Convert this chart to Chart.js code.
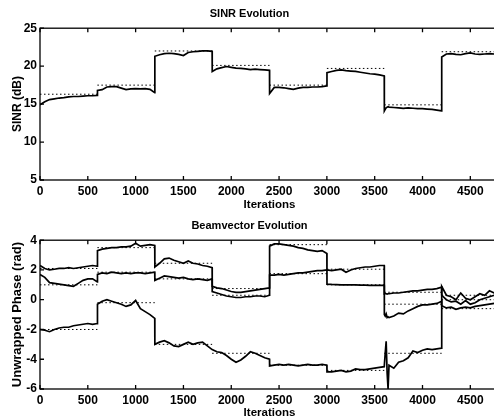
<!DOCTYPE html>
<html>
<head>
<meta charset="utf-8">
<script src="https://cdn.jsdelivr.net/npm/chart.js@4/dist/chart.umd.min.js"></script>
<style>
  html, body { margin: 0; padding: 0; background: #fff; overflow: hidden; width: 494px; height: 420px; }
  .panel { position: absolute; left: 0; }
</style>
</head>
<body>
<div class="panel" style="top:0"><canvas id="sinr" width="505" height="212"></canvas></div>
<div class="panel" style="top:212px"><canvas id="beam" width="505" height="208"></canvas></div>
<script>
// iteration grid the curves were read at (segments of 600 iterations)
const ITER = [
  0, 50, 100, 150, 200, 250, 300, 350, 400, 450, 500, 550, 600,
  601, 650, 700, 750, 800, 850, 900, 950, 1000, 1050, 1100, 1150, 1200,
  1201, 1250, 1300, 1350, 1400, 1450, 1500, 1550, 1600, 1650, 1700, 1750, 1800,
  1801, 1850, 1900, 1950, 2000, 2050, 2100, 2150, 2200, 2250, 2300, 2350, 2400,
  2401, 2450, 2500, 2550, 2600, 2650, 2700, 2750, 2800, 2850, 2900, 2950, 3000,
  3001, 3050, 3100, 3150, 3200, 3250, 3300, 3350, 3400, 3450, 3500, 3550, 3600,
  3601, 3610, 3620, 3630, 3640, 3650, 3700, 3750, 3800, 3850, 3900, 3950, 4000, 4050, 4100, 4150, 4200,
  4201, 4250, 4300, 4350, 4400, 4450, 4500, 4550, 4600, 4650, 4700, 4750, 4800
];
const SEG_EDGES = [0, 600, 1200, 1800, 2400, 3000, 3600, 4200, 4800];

// SINR (dB), adaptive
const SINR = [
  14.9, 15.3, 15.6, 15.7, 15.8, 15.85, 15.95, 16.0, 16.0, 16.05, 16.1, 16.1, 16.15,
  16.8, 16.9, 17.25, 17.3, 17.3, 17.1, 16.9, 17.0, 17.05, 17.0, 17.05, 16.95, 16.5,
  21.3, 21.5, 21.65, 21.7, 21.65, 21.55, 21.4, 21.8, 21.9, 21.95, 22.0, 22.0, 21.95,
  19.3, 19.65, 19.8, 19.95, 19.85, 19.75, 19.7, 19.65, 19.55, 19.6, 19.55, 19.5, 19.45,
  16.4, 17.2, 17.2, 17.15, 17.05, 16.95, 17.1, 17.2, 17.2, 17.25, 17.25, 17.3, 17.4,
  19.15, 19.3, 19.45, 19.5, 19.4, 19.35, 19.3, 19.2, 19.1, 19.0, 18.95, 18.85, 18.7,
  14.1, 14.3, 14.5, 14.6, 14.65, 14.6, 14.55, 14.5, 14.45, 14.5, 14.45, 14.4, 14.4, 14.35, 14.3, 14.2, 14.1,
  21.2, 21.6, 21.65, 21.55, 21.5, 21.65, 21.75, 21.6, 21.55, 21.6, 21.65, 21.6, 21.6
];
// SINR optimum per segment (dotted)
const SINR_OPT = [16.3, 17.5, 22.0, 20.1, 17.5, 19.7, 14.9, 21.9];

// unwrapped phases (rad) of the three beamvector weights
const PHASE1 = [
  2.3, 2.1, 2.0, 2.05, 2.1, 2.1, 2.15, 2.1, 2.15, 2.2, 2.25, 2.3, 2.25,
  3.3, 3.4, 3.45, 3.5, 3.5, 3.55, 3.55, 3.6, 3.8, 3.6, 3.65, 3.7, 3.65,
  2.2, 2.45, 2.75, 2.8, 2.65, 2.55, 2.45, 2.6, 2.45, 2.4, 2.3, 2.25, 2.15,
  0.9, 0.8, 0.75, 0.65, 0.55, 0.5, 0.5, 0.55, 0.6, 0.65, 0.7, 0.75, 0.8,
  3.6, 3.75, 3.75, 3.7, 3.65, 3.6, 3.5, 3.45, 3.35, 3.3, 3.25, 3.3, 3.1,
  1.05, 1.03, 1.02, 1.0, 1.0, 1.0, 1.0, 0.98, 0.98, 0.97, 0.97, 0.96, 0.96,
  0.4, 0.42, 0.4, 0.38, 0.4, 0.4, 0.45, 0.45, 0.5, 0.55, 0.6, 0.6, 0.65, 0.7, 0.7, 0.75, 0.85,
  0.3, 0.0, -0.15, -0.1, -0.3, -0.05, -0.3, -0.2, 0.0, 0.1, 0.2, 0.3, 0.5
];
const PHASE2 = [
  1.7, 1.5, 1.15, 1.1, 1.05, 1.0, 0.95, 0.9, 1.1, 1.3, 1.4, 1.4, 1.2,
  1.7, 1.8, 1.75, 1.85, 1.8, 1.75, 1.8, 1.75, 1.8, 1.8, 1.75, 1.8, 1.85,
  1.3, 1.45, 1.6, 1.55, 1.5, 1.45, 1.5, 1.4, 1.35, 1.4, 1.35, 1.3, 1.4,
  0.55, 0.45, 0.35, 0.25, 0.2, 0.15, 0.15, 0.2, 0.2, 0.25, 0.25, 0.2, 0.3,
  1.65, 1.65, 1.7, 1.65, 1.7, 1.75, 1.8, 1.8, 1.85, 1.9, 1.95, 1.95, 2.0,
  2.0, 1.95, 2.0, 2.05, 1.85, 2.0, 2.1, 2.15, 2.2, 2.2, 2.25, 2.3, 2.3,
  -1.0, -1.1, -0.95, -1.2, -1.15, -1.2, -1.1, -0.9, -0.95, -0.75, -0.6, -0.45, -0.35, -0.35, -0.3, -0.25, -0.1,
  -0.4, -0.55, -0.5, -0.65, -0.55, -0.5, -0.55, -0.45, -0.4, -0.35, -0.3, -0.25, -0.2
];
const PHASE3 = [
  -2.0, -2.05, -2.15, -2.0, -1.9, -1.85, -1.85, -1.75, -1.7, -1.65, -1.6, -1.65, -1.6,
  -0.3, -0.1, 0.0, -0.1, -0.2, -0.3, -0.45, -0.35, -0.05, -0.6, -0.8, -1.0, -1.25,
  -3.0, -2.85, -2.75, -2.9, -3.1, -3.15, -3.0, -2.85, -3.0, -2.9, -2.85, -3.1, -3.35,
  -3.35, -3.5, -3.55, -3.75, -4.0, -4.2, -4.05, -3.8, -3.5, -3.6, -3.75, -3.9, -4.0,
  -4.45, -4.4, -4.35, -4.4, -4.35, -4.4, -4.45, -4.4, -4.35, -4.4, -4.4, -4.35, -4.4,
  -4.85, -4.85, -4.8, -4.75, -4.85, -4.8, -4.65, -4.7, -4.7, -4.65, -4.6, -4.55, -4.5,
  -4.5, -3.6, -2.8, -4.9, -6.0, -4.4, -4.6, -4.2, -4.1, -3.9, -3.45, -3.55, -3.4, -3.3, -3.35, -3.3, -3.25,
  0.9, 0.3, 0.2, 0.0, 0.45, 0.1, 0.0, 0.2, 0.4, 0.3, 0.6, 0.45, 0.7
];
// optimum phases per segment (dotted)
const PHASE1_OPT = [2.1, 3.5, 2.45, 0.75, 3.7, 1.0, 0.5, 0.0];
const PHASE2_OPT = [1.0, 1.85, 1.4, 0.3, 1.75, 2.05, -0.3, -0.6];
const PHASE3_OPT = [-2.0, -0.2, -3.0, -3.6, -4.4, -4.75, -3.6, 0.3];

const X_TICKS = [0, 500, 1000, 1500, 2000, 2500, 3000, 3500, 4000, 4500];

function curve(vals) {
  return ITER.map((it, i) => ({ x: it, y: vals[i] }));
}
// one flat piece per segment, with a gap between pieces
function steps(levels) {
  const pts = [];
  levels.forEach((v, i) => {
    pts.push({ x: SEG_EDGES[i], y: v });
    pts.push({ x: SEG_EDGES[i + 1], y: v });
    pts.push({ x: SEG_EDGES[i + 1], y: null });
  });
  return pts;
}
function solid(vals) {
  return { data: curve(vals), borderColor: '#000', borderWidth: 1.7, pointRadius: 0, tension: 0 };
}
function dotted(levels) {
  return { data: steps(levels), borderColor: '#000', borderWidth: 1, borderDash: [1.5, 2.5], pointRadius: 0, spanGaps: false };
}

// matlab style box with inward tick marks
const frameTicks = {
  id: 'frameTicks',
  afterDatasetsDraw(chart) {
    const { ctx, chartArea: a, scales } = chart;
    ctx.save();
    ctx.strokeStyle = '#000';
    ctx.lineWidth = 1.3;
    ctx.strokeRect(a.left, a.top, a.right - a.left, a.bottom - a.top);
    ctx.beginPath();
    scales.x.ticks.forEach(t => {
      const px = scales.x.getPixelForValue(t.value);
      ctx.moveTo(px, a.bottom); ctx.lineTo(px, a.bottom - 4);
      ctx.moveTo(px, a.top); ctx.lineTo(px, a.top + 4);
    });
    scales.y.ticks.forEach(t => {
      const py = scales.y.getPixelForValue(t.value);
      ctx.moveTo(a.left, py); ctx.lineTo(a.left + 4, py);
      ctx.moveTo(a.right, py); ctx.lineTo(a.right - 4, py);
    });
    ctx.stroke();
    ctx.restore();
  }
};

const FONT = "'Liberation Sans', Arial, Helvetica, sans-serif";

function makeOptions(title, yTitle, yTitleSize, ymin, ymax, ystep, xHeight) {
  return {
    responsive: false,
    animation: false,
    layout: { padding: { left: 0, right: 6, top: 0, bottom: 0 } },
    plugins: {
      legend: { display: false },
      tooltip: { enabled: false },
      title: {
        display: true,
        text: title,
        color: '#000',
        font: { family: FONT, size: 11, weight: 'bold' },
        padding: { top: 7, bottom: 8 }
      }
    },
    scales: {
      x: {
        type: 'linear',
        min: 0,
        max: 4800,
        afterFit: s => { s.height = xHeight; },
        afterBuildTicks: s => { s.ticks = X_TICKS.map(v => ({ value: v })); },
        grid: { display: false, drawTicks: false },
        border: { display: false },
        ticks: {
          color: '#000', padding: 4, maxRotation: 0, autoSkip: false,
          callback: v => String(v),
          font: { family: FONT, size: 12, weight: 'bold' }
        },
        title: {
          display: true, text: 'Iterations', color: '#000',
          font: { family: FONT, size: 11.5, weight: 'bold' },
          padding: { top: 0, bottom: 0 }
        }
      },
      y: {
        min: ymin,
        max: ymax,
        afterFit: s => { s.width = 40; },
        grid: { display: false, drawTicks: false },
        border: { display: false },
        ticks: {
          stepSize: ystep, color: '#000', padding: 3,
          callback: v => String(v),
          font: { family: FONT, size: 12, weight: 'bold' }
        },
        title: {
          display: true, text: yTitle, color: '#000',
          font: { family: FONT, size: yTitleSize, weight: 'bold' },
          padding: { top: 10, bottom: 0 }
        }
      }
    }
  };
}

new Chart(document.getElementById('sinr').getContext('2d'), {
  type: 'line',
  data: { datasets: [dotted(SINR_OPT), solid(SINR)] },
  options: makeOptions('SINR Evolution', 'SINR (dB)', 12, 5, 25, 5, 32),
  plugins: [frameTicks]
});

new Chart(document.getElementById('beam').getContext('2d'), {
  type: 'line',
  data: {
    datasets: [
      dotted(PHASE1_OPT), dotted(PHASE2_OPT), dotted(PHASE3_OPT),
      solid(PHASE1), solid(PHASE2), solid(PHASE3)
    ]
  },
  options: makeOptions('Beamvector Evolution', 'Unwrapped Phase (rad)', 13, -6, 4, 2, 31),
  plugins: [frameTicks]
});
</script>
</body>
</html>
